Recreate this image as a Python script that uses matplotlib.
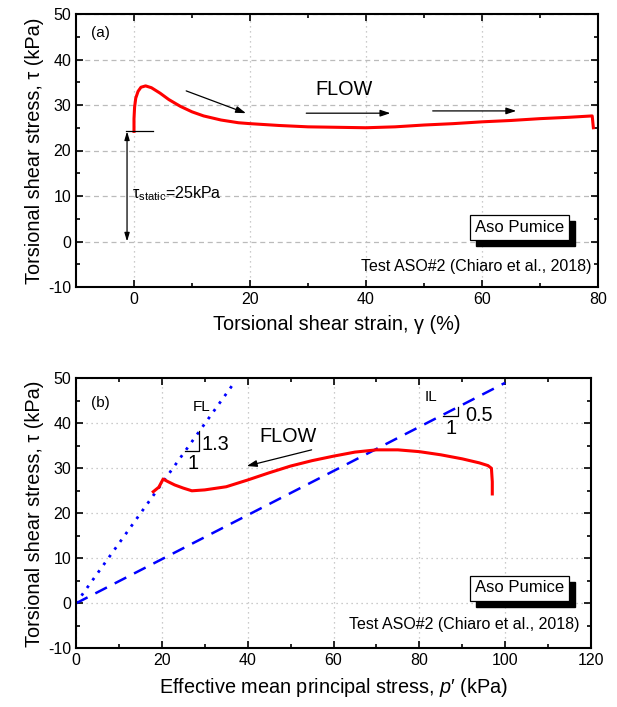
import matplotlib
matplotlib.use("Agg")
import matplotlib.pyplot as plt
from matplotlib.ticker import MultipleLocator
from matplotlib.patches import Rectangle

plt.rcParams["font.family"] = ["Liberation Sans", "DejaVu Sans"]
plt.rcParams["mathtext.fontset"] = "custom"
plt.rcParams["mathtext.rm"] = "Liberation Sans"
plt.rcParams["mathtext.it"] = "Liberation Sans:italic"
plt.rcParams["mathtext.sf"] = "Liberation Sans"
plt.rcParams["axes.unicode_minus"] = False

# (a) shear strain vs shear stress
strain = [0.0, 0.0, 0.1, 0.3, 0.7, 1.2, 2.0, 3.0, 4.5, 6, 8, 10, 12, 15, 18, 20, 25,
          30, 35, 40, 45, 50, 55, 60, 65, 70, 75, 79.0, 79.2]
stress_a = [24.2, 27.0, 29.5, 31.5, 33.0, 33.9, 34.2, 33.8, 32.6, 31.2, 29.7, 28.5,
            27.6, 26.7, 26.1, 25.9, 25.5, 25.2, 25.1, 25.0, 25.2, 25.6, 25.9, 26.3,
            26.6, 27.0, 27.3, 27.6, 25.0]

# (b) effective mean principal stress vs shear stress
p_eff = [18.0, 19.3, 20.3, 21.5, 23.0, 25.0, 27.0, 30.0, 35.0, 40.0, 45.0, 50.0,
         55.0, 60.0, 65.0, 70.0, 75.0, 80.0, 85.0, 90.0, 94.0, 96.0, 96.8, 97.0, 97.0]
stress_b = [24.8, 25.8, 27.6, 27.0, 26.3, 25.6, 25.0, 25.2, 25.9, 27.4, 29.0, 30.5,
            31.7, 32.7, 33.6, 34.1, 34.1, 33.7, 33.0, 32.1, 31.2, 30.6, 30.0, 27.0, 24.3]

fl_slope = 1.33
il_slope = 0.49
fl_p = [0, 36.5]
il_p = [0, 100]

fig = plt.figure(figsize=(6.17, 7.07), dpi=100)
ax1 = fig.add_axes([76 / 617, 1 - 287 / 707, 522 / 617, 273 / 707])
ax2 = fig.add_axes([76 / 617, 1 - 648.3 / 707, 515 / 617, 270 / 707])

TICK = 11.5
LAB = 14.3


def style(ax, xmaj, xmin, hgrid_ls):
    ax.xaxis.set_major_locator(MultipleLocator(xmaj))
    ax.xaxis.set_minor_locator(MultipleLocator(xmin))
    ax.yaxis.set_major_locator(MultipleLocator(10))
    ax.yaxis.set_minor_locator(MultipleLocator(5))
    ax.tick_params(which="both", direction="in", top=True, right=True,
                   labelsize=TICK, width=1.2)
    ax.tick_params(which="major", length=5)
    ax.tick_params(which="minor", length=3)
    for s in ax.spines.values():
        s.set_linewidth(1.5)
    ax.yaxis.grid(True, color="#bbbbbb", ls=hgrid_ls, lw=0.9)
    ax.xaxis.grid(True, color="#bbbbbb", ls=(0, (1, 3)), lw=0.9)
    ax.set_axisbelow(True)
    ax.set_ylim(-10, 50)


boxes = []


def label_box(ax, x, y):
    t = ax.text(x, y, "Aso Pumice", fontsize=12, ha="center", va="center", zorder=6,
                bbox=dict(boxstyle="square,pad=0.3", fc="white", ec="black", lw=0.9))
    boxes.append(t)


# ---- panel (a)
style(ax1, 20, 10, (0, (4, 3)))
ax1.set_xlim(-10, 80)
ax1.plot(strain, stress_a, color="red", lw=2.2)
ax1.plot([-1.3, 3.2], [24.2, 24.2], color="black", lw=0.9)
ax1.annotate("", xy=(-1.2, 0), xytext=(-1.2, 24.2),
             arrowprops=dict(arrowstyle="<|-|>,head_length=0.5,head_width=0.15",
                             color="black", lw=0.9, shrinkA=0, shrinkB=0))
ax1.text(-0.3, 10.6, "τ$_{\\rm static}$=25kPa", fontsize=11.5, va="center")
ax1.text(-7.5, 45.8, "(a)", fontsize=TICK - 0.5, va="center")
ax1.text(31.2, 33.3, "FLOW", fontsize=LAB, va="center")
for (x0, y0, x1, y1) in [(9, 33.1, 19.3, 28.2), (29.7, 28.2, 44.2, 28.2),
                         (51.5, 28.7, 65.9, 28.7)]:
    ax1.annotate("", xy=(x1, y1), xytext=(x0, y0),
                 arrowprops=dict(arrowstyle="-|>,head_length=0.6,head_width=0.2",
                                 color="black", lw=0.9, shrinkA=0, shrinkB=0))
label_box(ax1, 66.5, 3.0)
ax1.text(78.8, -5.6, "Test ASO#2 (Chiaro et al., 2018)", fontsize=TICK,
         ha="right", va="center")
ax1.set_xlabel("Torsional shear strain, γ (%)", fontsize=LAB, labelpad=6)
ax1.set_ylabel("Torsional shear stress, τ (kPa)", fontsize=LAB, labelpad=3)

# ---- panel (b)
style(ax2, 20, 10, (0, (1, 3)))
ax2.set_xlim(0, 120)
ax2.plot(fl_p, [fl_slope * v for v in fl_p], color="blue", lw=2, ls=(0, (1, 2.4)))
ax2.plot(il_p, [il_slope * v for v in il_p], color="blue", lw=1.8, ls=(0, (5.2, 3.5)))
ax2.plot(p_eff, stress_b, color="red", lw=2.2)
ax2.plot([25.3, 28.7, 28.7], [33.9, 33.9, 38.3], color="black", lw=0.9)
ax2.text(29.2, 35.3, "1.3", fontsize=LAB, va="center")
ax2.text(27.3, 31.0, "1", fontsize=LAB, ha="center", va="center")
ax2.text(29.3, 43.6, "FL", fontsize=TICK - 0.5, ha="center", va="center")
ax2.plot([85.5, 88.9, 88.9], [41.6, 41.6, 43.6], color="black", lw=0.9)
ax2.text(90.6, 41.8, "0.5", fontsize=LAB, va="center")
ax2.text(87.3, 38.8, "1", fontsize=LAB, ha="center", va="center")
ax2.text(82.7, 45.9, "IL", fontsize=TICK - 0.5, ha="center", va="center")
ax2.text(5.6, 44.5, "(b)", fontsize=TICK - 0.5, ha="center", va="center")
ax2.text(49.3, 37.0, "FLOW", fontsize=LAB, ha="center", va="center")
ax2.annotate("", xy=(39.8, 30.5), xytext=(54.9, 34.1),
             arrowprops=dict(arrowstyle="-|>,head_length=0.6,head_width=0.2",
                             color="black", lw=0.9, shrinkA=0, shrinkB=0))
label_box(ax2, 103.3, 3.4)
ax2.text(117.3, -4.6, "Test ASO#2 (Chiaro et al., 2018)", fontsize=TICK,
         ha="right", va="center")
ax2.set_xlabel("Effective mean principal stress, $p$′ (kPa)", fontsize=LAB, labelpad=6)
ax2.set_ylabel("Torsional shear stress, τ (kPa)", fontsize=LAB, labelpad=3)

# drop shadow behind the "Aso Pumice" boxes
fig.canvas.draw()
inv = fig.transFigure.inverted()
for t in boxes:
    bb = t.get_bbox_patch().get_window_extent()
    (x0, y0), (x1, y1) = inv.transform([[bb.x0 + 6, bb.y0 - 6], [bb.x1 + 6, bb.y1 - 6]])
    t.axes.add_patch(Rectangle((x0, y0), x1 - x0, y1 - y0, transform=fig.transFigure,
                               fc="black", ec="black", zorder=5, clip_on=False))

fig.savefig("out.png", dpi=100)
